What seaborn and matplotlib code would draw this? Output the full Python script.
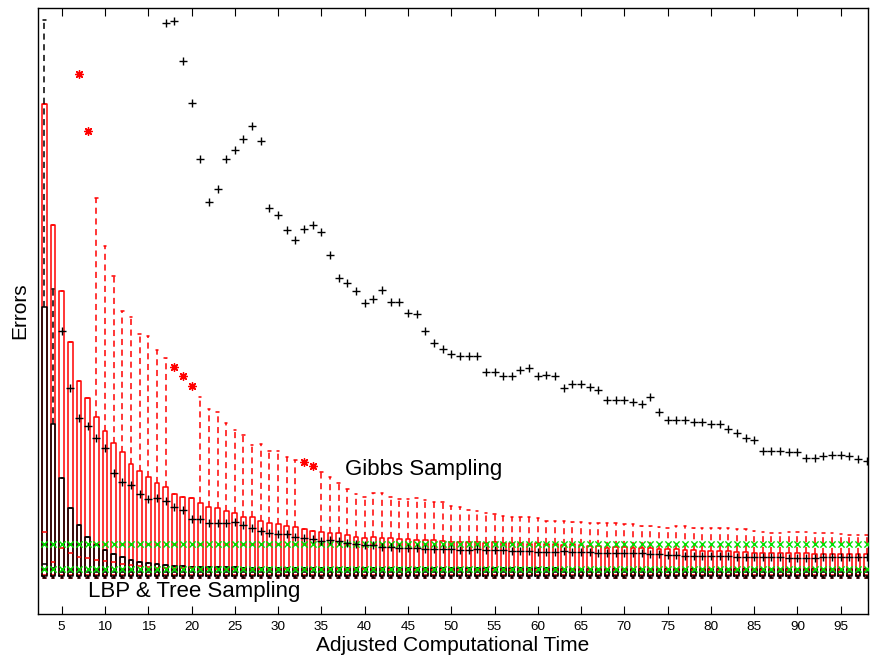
import numpy as np
import pandas as pd
import matplotlib
matplotlib.use("Agg")
import matplotlib.pyplot as plt
import seaborn as sns

# ---------------- data ----------------
positions = list(range(3, 99))          # adjusted computational time 3..98
tick_values = list(range(5, 96, 5))

# Gibbs sampling boxes (red)
gibbs_q3 = [.474, .353, .287, .236, .197, .180, .161, .147, .135, .126,
            .114, .107, .101, .095, .091, .084, .081, .080, .075, .071,
            .070, .067, .065, .061, .061, .057, .055, .054, .052, .051,
            .049, .047, .046, .045, .045, .043, .041, .040, .041, .040,
            .040, .039, .039, .038, .038, .038, .037, .036, .036, .036,
            .036, .035, .036, .035, .035, .035, .034, .035, .034, .034,
            .033, .034, .033, .032, .032, .030, .031, .031, .030, .030,
            .030, .029, .029, .029, .028, .028, .027, .027, .027, .027,
            .026, .026, .025, .025, .025, .025, .025, .025, .025, .024,
            .024, .024, .024, .024, .024, .024]
gibbs_hi = [.474, .353, .287, .236, .197, .180, .380, .332, .302, .267,
            .261, .244, .242, .228, .220, .084, .081, .080, .181, .169,
            .166, .155, .148, .143, .133, .134, .127, .127, .121, .118,
            .049, .047, .106, .101, .095, .089, .084, .081, .085, .085,
            .081, .079, .079, .080, .078, .076, .076, .072, .071, .068,
            .067, .065, .064, .062, .061, .061, .061, .060, .057, .057,
            .057, .056, .056, .055, .055, .055, .055, .054, .054, .052,
            .052, .051, .050, .052, .052, .050, .050, .050, .050, .050,
            .049, .049, .047, .046, .045, .045, .046, .046, .046, .045,
            .045, .045, .044, .043, .043, .043]
gibbs_med = [.046, .016, .030, .025, .021, .020, .018, .017, .016, .014,
             .013, .012, .011, .010, .010, .010, .010, .010, .009, .009,
             .009, .009, .009, .009, .009, .009, .009, .009, .009, .009,
             .009, .009, .009, .009, .009, .009, .009, .009, .009, .009,
             .008, .008, .008, .008, .008, .008, .008, .008, .008, .008,
             .008, .008, .008, .008, .008, .008, .008, .008, .008, .008,
             .008, .008, .008, .008, .008, .008, .008, .008, .008, .008,
             .008, .008, .008, .008, .008, .008, .008, .008, .008, .008,
             .008, .008, .008, .008, .008, .008, .008, .008, .008, .008,
             .008, .008, .008, .008, .008, .008]
gibbs_q1 = 0.003
gibbs_lo = 0.000
gibbs_outlier_x = [7, 8, 18, 19, 20, 33, 34]
gibbs_outlier_y = [.504, .447, .211, .202, .192, .116, .112]

# Gibbs sampling mean (black +) from t = 5
gibbs_mean_x = list(range(5, 99))
gibbs_mean = [.247, .190, .160, .152, .140, .130, .105, .096, .093, .084,
              .079, .080, .077, .071, .068, .059, .059, .055, .055, .055,
              .056, .053, .050, .047, .045, .044, .044, .041, .040, .039,
              .037, .038, .037, .035, .034, .033, .033, .031, .031, .030,
              .030, .030, .029, .029, .029, .029, .028, .028, .029, .028,
              .028, .028, .027, .027, .027, .026, .026, .026, .027, .026,
              .026, .026, .025, .025, .025, .025, .025, .025, .024, .024,
              .023, .023, .022, .022, .022, .022, .022, .022, .021, .021,
              .021, .021, .021, .021, .020, .020, .020, .020, .021, .021,
              .021, .021, .021, .021]

# upper black + series from t = 17
upper_x = list(range(17, 99))
upper_y = [.555, .557, .517, .475, .419, .376, .389, .419, .428, .439,
           .452, .437, .370, .363, .348, .338, .349, .353, .346, .323,
           .300, .295, .287, .275, .279, .288, .276, .276, .265, .264,
           .247, .235, .229, .224, .222, .222, .222, .206, .206, .202,
           .202, .208, .210, .202, .203, .202, .190, .194, .194, .191,
           .188, .178, .178, .178, .176, .174, .181, .166, .158, .158,
           .158, .156, .156, .154, .154, .149, .145, .140, .138, .127,
           .127, .127, .126, .126, .120, .120, .122, .123, .123, .122,
           .119, .117]

# LBP & tree sampling boxes (black)
lbp_q3 = [.271, .154, .100, .070, .053, .041, .033, .028, .024, .021,
          .018, .016, .015, .014, .013, .012, .012, .011, .011, .011,
          .011, .011, .011, .010, .010, .010, .010, .010, .010, .010,
          .010, .010, .010, .010, .010, .010, .010, .010, .010, .010,
          .010, .010, .010, .010, .010, .010, .010, .010, .010, .010,
          .010, .010, .010, .010, .010, .010, .010, .010, .010, .010,
          .009, .009, .009, .009, .009, .009, .009, .009, .009, .009,
          .009, .009, .009, .009, .009, .009, .009, .009, .009, .009,
          .009, .009, .009, .009, .009, .009, .009, .009, .009, .009,
          .009, .009, .009, .009, .009, .009]
lbp_hi_override = {3: .558, 4: .289}
lbp_med_override = {3: .014, 4: .010}
lbp_med = 0.006
lbp_q1 = 0.002
lbp_lo = 0.000

# green x markers (two constant levels)
green_levels = [.034, .009]

# ---------------- build long-form tables ----------------
def box_rows(lo, q1, med, q3, hi):
    rows = []
    for i, t in enumerate(positions):
        for v in (lo[i], q1[i], med[i], q3[i], hi[i]):
            rows.append((t, v))
    return pd.DataFrame(rows, columns=["time", "error"])

n = len(positions)
gibbs_df = box_rows([gibbs_lo] * n, [gibbs_q1] * n, gibbs_med, gibbs_q3, gibbs_hi)
lbp_hi = [lbp_hi_override.get(t, lbp_q3[i]) for i, t in enumerate(positions)]
lbp_meds = [lbp_med_override.get(t, lbp_med) for t in positions]
lbp_df = box_rows([lbp_lo] * n, [lbp_q1] * n, lbp_meds, lbp_q3, lbp_hi)

green_df = pd.DataFrame([(t, g) for g in green_levels for t in positions],
                        columns=["time", "error"])

# ---------------- plot ----------------
sns.set_theme(style="white")
plt.rcParams["font.family"] = ["Liberation Sans", "DejaVu Sans"]
plt.rcParams["text.color"] = "black"
plt.rcParams["axes.labelcolor"] = "black"
plt.rcParams["xtick.color"] = "black"

fig = plt.figure(figsize=(8.72, 6.6), dpi=100)
ax = fig.add_axes([38 / 872, 46 / 660, 830 / 872, 606 / 660])

dash = (0, (4, 3))
common = dict(x="time", y="error", native_scale=True, width=0.56, fill=False,
              whis=(0, 100), showfliers=False, linewidth=1.1, saturation=1,
              ax=ax)
sns.boxplot(data=gibbs_df, color="red", linecolor="red",
            whiskerprops=dict(linestyle=dash, color="red"),
            medianprops=dict(color="red"),
            capprops=dict(color="red"), **common)
sns.boxplot(data=lbp_df, color="black", linecolor="black",
            whiskerprops=dict(linestyle=dash, color="black"),
            medianprops=dict(color="black"),
            capprops=dict(color="black"), **common)

sns.scatterplot(data=green_df, x="time", y="error", marker="x",
                color="#00e000", s=20, linewidth=1.0, ax=ax, zorder=4)
sns.scatterplot(x=gibbs_outlier_x, y=gibbs_outlier_y, marker=(8, 2, 0),
                color="red", s=30, linewidth=1.0, ax=ax, zorder=5)
sns.scatterplot(x=gibbs_mean_x, y=gibbs_mean, marker="+", color="black",
                s=32, linewidth=1.0, ax=ax, zorder=6)
sns.scatterplot(x=upper_x, y=upper_y, marker="+", color="black",
                s=32, linewidth=1.0, ax=ax, zorder=6)

ax.text(37.7, .108, "Gibbs Sampling", fontsize=16, va="center", ha="left",
        color="black")
ax.text(8.0, -.013, "LBP & Tree Sampling", fontsize=16, va="center",
        ha="left", color="black")

ax.set_xlim(2.26, 98.15)
ax.set_ylim(-0.036, 0.570)
ax.set_xticks(tick_values)
ax.set_xticklabels([str(v) for v in tick_values], fontsize=9.7)
ax.set_yticks([])
ax.tick_params(axis="x", direction="in", length=5.5, width=0.8, top=True,
               bottom=True, color="black", labelcolor="black", pad=5)
ax.set_xlabel("Adjusted Computational Time", fontsize=15, labelpad=2,
              color="black")
ax.set_ylabel("Errors", fontsize=15, labelpad=6, color="black")
for sp in ax.spines.values():
    sp.set_color("black")
    sp.set_linewidth(1.0)
ax.grid(False)

fig.savefig("out.png", dpi=100)
